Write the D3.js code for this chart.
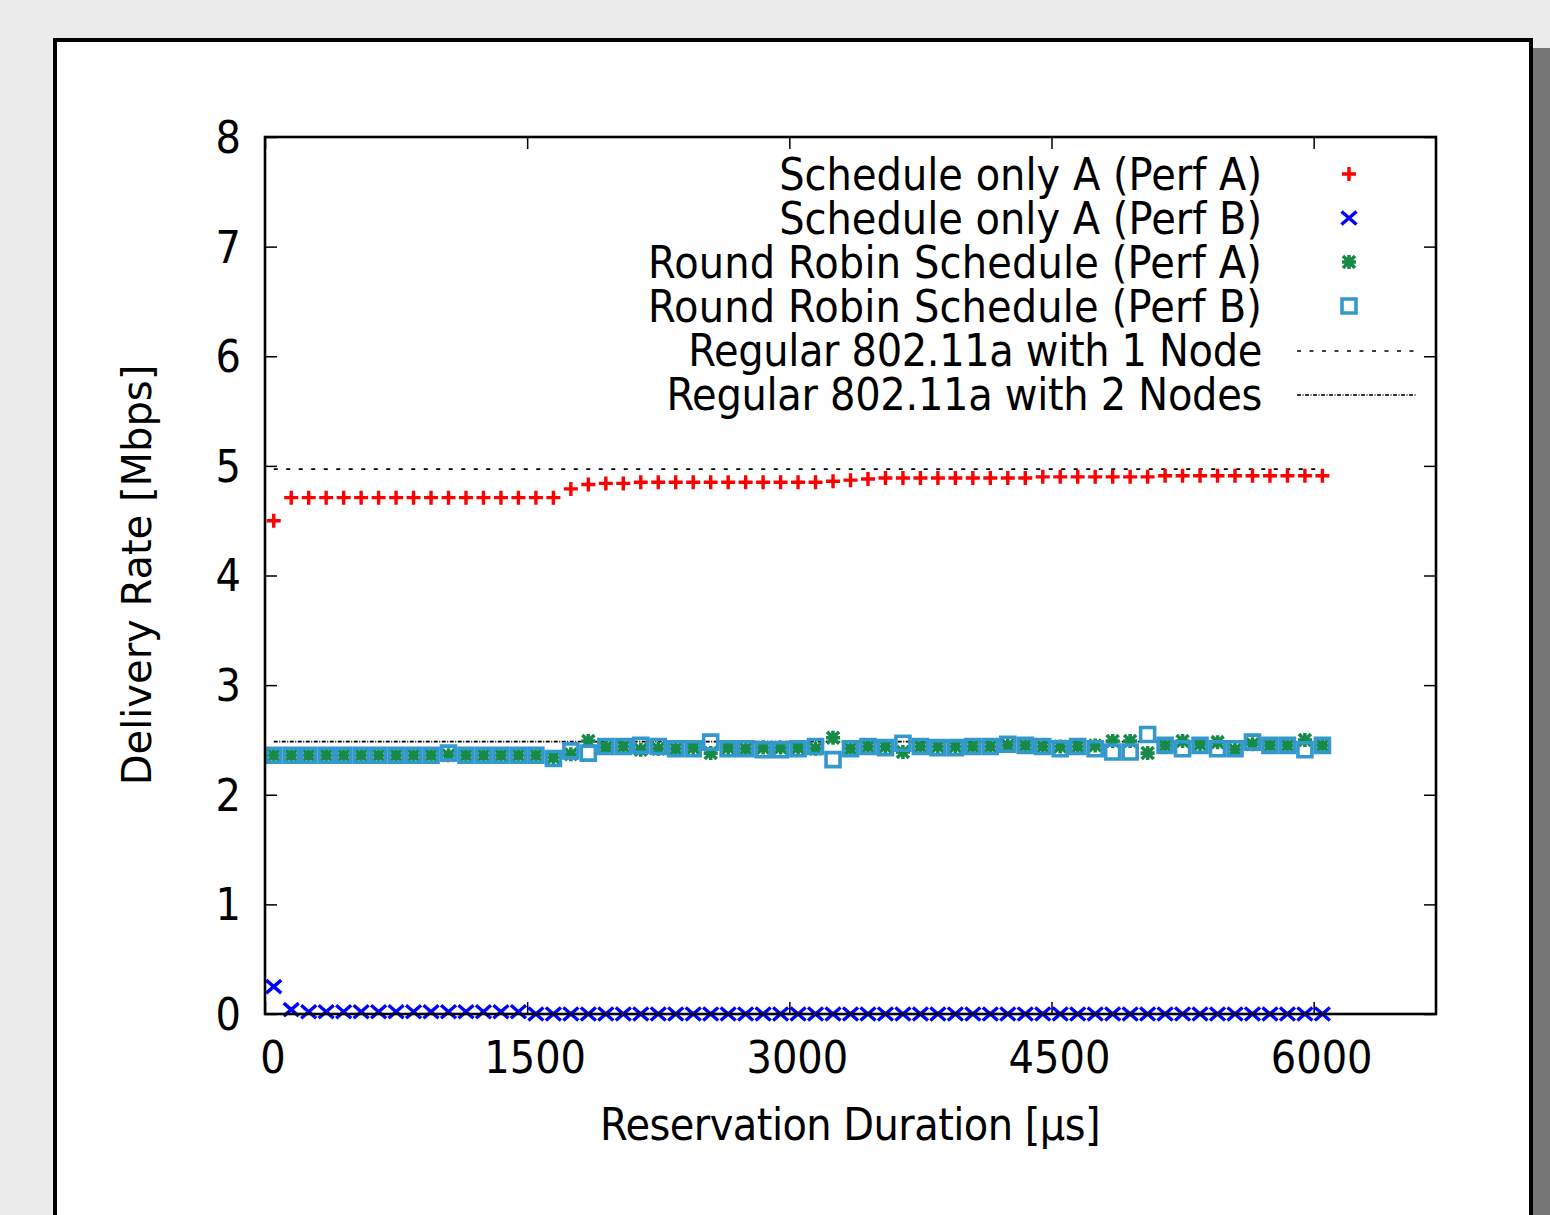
<!DOCTYPE html>
<html><head><meta charset="utf-8">
<script src="https://cdn.jsdelivr.net/npm/d3@7"></script>
<style>html,body{margin:0;padding:0;background:#ebebeb;}svg{display:block;}</style>
</head><body>
<svg id="chart" width="1550" height="1215"></svg>
<script>
const durations = [50,150,250,350,450,550,650,750,850,950,1050,1150,1250,1350,1450,1550,1650,1750,1850,1950,
  2050,2150,2250,2350,2450,2550,2650,2750,2850,2950,3050,3150,3250,3350,3450,3550,3650,3750,3850,3950,
  4050,4150,4250,4350,4450,4550,4650,4750,4850,4950,5050,5150,5250,5350,5450,5550,5650,5750,5850,5950,6050];
const onlyA_perfA = [4.50,4.71,4.71,4.71,4.71,4.71,4.71,4.71,4.71,4.71,4.71,4.71,4.71,4.71,4.71,4.71,4.71,4.79,4.83,4.84,
  4.84,4.85,4.85,4.85,4.85,4.85,4.85,4.85,4.85,4.85,4.85,4.85,4.86,4.87,4.88,4.89,4.89,4.89,4.89,4.89,
  4.89,4.89,4.89,4.89,4.90,4.90,4.90,4.90,4.90,4.90,4.90,4.91,4.91,4.91,4.91,4.91,4.91,4.91,4.91,4.91,4.91];
const onlyA_perfB = [0.25,0.04,0.02,0.02,0.02,0.02,0.02,0.02,0.02,0.02,0.02,0.02,0.02,0.02,0.02,0.00,0.00,0.00,0.00,0.00,
  0.00,0.00,0.00,0.00,0.00,0.00,0.00,0.00,0.00,0.00,0.00,0.00,0.00,0.00,0.00,0.00,0.00,0.00,0.00,0.00,
  0.00,0.00,0.00,0.00,0.00,0.00,0.00,0.00,0.00,0.00,0.00,0.00,0.00,0.00,0.00,0.00,0.00,0.00,0.00,0.00,0.00];
const rr_perfA = [2.36,2.36,2.36,2.36,2.36,2.36,2.36,2.36,2.36,2.36,2.36,2.36,2.36,2.36,2.36,2.36,2.34,2.37,2.49,2.43,
  2.44,2.41,2.42,2.42,2.43,2.38,2.43,2.42,2.43,2.43,2.43,2.42,2.52,2.42,2.44,2.44,2.39,2.44,2.44,2.44,
  2.44,2.44,2.45,2.45,2.44,2.44,2.44,2.45,2.49,2.49,2.38,2.45,2.49,2.46,2.48,2.41,2.46,2.45,2.45,2.50,2.45];
const rr_perfB = [2.36,2.36,2.36,2.36,2.36,2.36,2.36,2.36,2.36,2.36,2.38,2.36,2.36,2.36,2.36,2.36,2.33,2.40,2.38,2.44,
  2.44,2.45,2.44,2.42,2.42,2.48,2.42,2.42,2.41,2.41,2.42,2.44,2.32,2.42,2.44,2.43,2.47,2.44,2.43,2.43,
  2.44,2.44,2.46,2.45,2.44,2.42,2.44,2.42,2.39,2.39,2.55,2.45,2.42,2.45,2.42,2.42,2.48,2.45,2.45,2.41,2.45];
const regular1Node = 4.97;
const regular2Nodes = 2.485;
const xTicks = [0,1500,3000,4500,6000];
const yTicks = [0,1,2,3,4,5,6,7,8];
const legendLabels = ["Schedule only A (Perf A)","Schedule only A (Perf B)","Round Robin Schedule (Perf A)",
  "Round Robin Schedule (Perf B)","Regular 802.11a with 1 Node","Regular 802.11a with 2 Nodes"];
const xTitle = "Reservation Duration [µs]";
const yTitle = "Delivery Rate [Mbps]";

const FONT = "DejaVu Sans";
const FS = 40, SY = 1.13;
const svg = d3.select("#chart");
const L = 265, R = 1436, T = 137, B = 1014;
const x = d3.scaleLinear().domain([0,6700]).range([L,R]);
const y = d3.scaleLinear().domain([0,8]).range([B,T]);

// panel + shadow
svg.append("rect").attr("x",70).attr("y",48).attr("width",1480).attr("height",1300).attr("fill","#777");
svg.append("rect").attr("x",55).attr("y",40).attr("width",1476).attr("height",1300)
  .attr("fill","#fff").attr("stroke","#000").attr("stroke-width",4);

function txt(g, s, tx, ty, anchor, ls) {
  return g.append("text").attr("transform",`translate(${tx},${ty}) scale(1,${SY})`)
    .attr("text-anchor",anchor).attr("dominant-baseline","central")
    .attr("letter-spacing", ls||0)
    .attr("font-family",FONT).attr("font-size",FS).attr("fill","#000").text(s);
}

// axes
const gx = svg.append("g").attr("transform",`translate(0,${B})`)
  .call(d3.axisBottom(x).tickValues(xTicks).tickSize(-12).tickFormat(""));
const gxt = svg.append("g").attr("transform",`translate(0,${T})`)
  .call(d3.axisTop(x).tickValues(xTicks).tickSize(-12).tickFormat(""));
const gy = svg.append("g").attr("transform",`translate(${L},0)`)
  .call(d3.axisLeft(y).tickValues(yTicks).tickSize(-12).tickFormat(""));
const gyr = svg.append("g").attr("transform",`translate(${R},0)`)
  .call(d3.axisRight(y).tickValues(yTicks).tickSize(-12).tickFormat(""));
[gx,gxt,gy,gyr].forEach(g=>{g.select(".domain").remove(); g.selectAll("line").attr("stroke","#000").attr("stroke-width",1.5);});

const labels = svg.append("g");
xTicks.forEach(v=>txt(labels, String(v), x(v)+8, 1057, "middle"));
yTicks.forEach(v=>txt(labels, String(v), 241, y(v), "end"));
txt(labels, xTitle, 850, 1124, "middle", -0.55);
svg.append("text").attr("transform",`translate(137,575) rotate(-90)`)
  .attr("text-anchor","middle").attr("dominant-baseline","central")
  .attr("font-family",FONT).attr("font-size",FS).text(yTitle);

// reference lines
const line = d3.line().x(d=>x(d[0])).y(d=>y(d[1]));
svg.append("path").datum(durations.map(d=>[d,regular1Node])).attr("d",line)
  .attr("fill","none").attr("stroke","#000").attr("stroke-width",1.6).attr("stroke-dasharray","4,8.5");
svg.append("path").datum(durations.map(d=>[d,regular2Nodes])).attr("d",line)
  .attr("fill","none").attr("stroke","#000").attr("stroke-width",1.6).attr("stroke-dasharray","4,1.5,1,1.5");

const shapes = {
  plus: "M-7,0H7M0,-7V7",
  cross: "M-7.5,-6.5L7.5,6.5M-7.5,6.5L7.5,-6.5",
  star: "M-7,0H7M0,-7V7M-6,-6L6,6M-6,6L6,-6",
  square: "M-7,-7H7V7H-7Z"
};
const series = [
  {vals: onlyA_perfA, color:"#ff0000", shape:"plus", w:3.4},
  {vals: onlyA_perfB, color:"#0000ff", shape:"cross", w:3.4},
  {vals: rr_perfA, color:"#178a47", shape:"star", w:3.6},
  {vals: rr_perfB, color:"#3399cc", shape:"square", w:3.6}
];
series.forEach(s=>{
  svg.append("g").selectAll("path").data(s.vals).join("path")
    .attr("transform",(d,i)=>`translate(${x(durations[i])},${y(d)})`)
    .attr("d",shapes[s.shape]).attr("fill","none").attr("stroke",s.color).attr("stroke-width",s.w);
});

// frame
svg.append("rect").attr("x",L).attr("y",T).attr("width",R-L).attr("height",B-T)
  .attr("fill","none").attr("stroke","#000").attr("stroke-width",2.6);

// legend
const lg = svg.append("g");
const rowY = [174,218,262,306,350,394];
const rowLS = [0,0,0.15,0.15,-0.35,-0.3];
legendLabels.forEach((t,i)=>txt(lg, t, 1262, rowY[i], "end", rowLS[i]));
series.forEach((s,i)=>{
  lg.append("path").attr("transform",`translate(1349,${rowY[i]})`).attr("d",shapes[s.shape])
    .attr("fill","none").attr("stroke",s.color).attr("stroke-width",s.w);
});
lg.append("line").attr("x1",1297).attr("x2",1417).attr("y1",351).attr("y2",351)
  .attr("stroke","#000").attr("stroke-width",1.6).attr("stroke-dasharray","4,8.5");
lg.append("line").attr("x1",1297).attr("x2",1417).attr("y1",395).attr("y2",395)
  .attr("stroke","#000").attr("stroke-width",1.6).attr("stroke-dasharray","4,1.5,1,1.5");
</script>
</body></html>
